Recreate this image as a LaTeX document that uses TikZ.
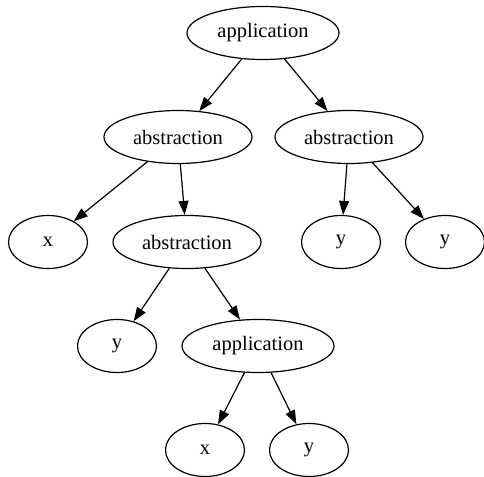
\documentclass[tikz,border=0pt]{standalone}
\usepackage{fontspec}
\setmainfont{Liberation Serif}
\usetikzlibrary{shapes.geometric,arrows.meta}
\begin{document}
\begin{tikzpicture}[x=1pt,y=1pt,
  every node/.style={font=\fontsize{20.5}{24}\selectfont},
  nd/.style={draw, line width=1.2pt, ellipse, inner sep=0pt, minimum height=53pt},
  small/.style={nd, minimum width=79pt},
  abs/.style={nd, minimum width=148pt},
  app/.style={nd, minimum width=152pt},
  edge/.style={draw, line width=1.2pt, -{Triangle[length=14pt,width=10pt]}}]
\useasboundingbox (0,0) rectangle (484,-476);
\node[app]   (a1) at (263,-33)  {application};
\node[abs]   (b1) at (178,-137) {abstraction};
\node[abs]   (b2) at (349,-137) {abstraction};
\node[small] (x1) at (48,-242)  {x};
\node[abs]   (b3) at (187,-242) {abstraction};
\node[small] (y1) at (341,-242) {y};
\node[small] (y2) at (445,-242) {y};
\node[small] (y3) at (117,-346) {y};
\node[app]   (a2) at (258,-346) {application};
\node[small] (x2) at (205,-450) {x};
\node[small] (y4) at (309,-450) {y};
\path[edge] (a1) -- (b1);
\path[edge] (a1) -- (b2);
\path[edge] (b1) -- (x1);
\path[edge] (b1) -- (b3);
\path[edge] (b2) -- (y1);
\path[edge] (b2) -- (y2);
\path[edge] (b3) -- (y3);
\path[edge] (b3) -- (a2);
\path[edge] (a2) -- (x2);
\path[edge] (a2) -- (y4);
\end{tikzpicture}
\end{document}
